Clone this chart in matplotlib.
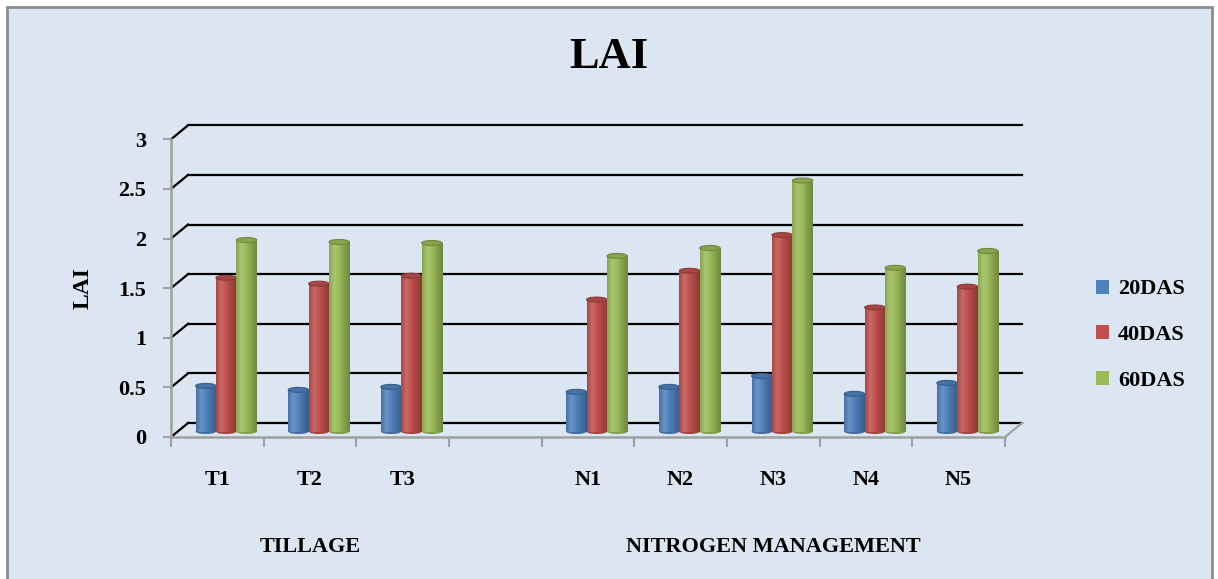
import matplotlib
matplotlib.use("Agg")
import matplotlib.pyplot as plt
import numpy as np
from matplotlib.colors import LinearSegmentedColormap, to_rgb
from matplotlib.patches import Ellipse, Rectangle, Patch

# data
categories = ["T1", "T2", "T3", "", "N1", "N2", "N3", "N4", "N5"]
groups = ["TILLAGE", "NITROGEN MANAGEMENT"]
group_centers = [1, 6]
series = ["20DAS", "40DAS", "60DAS"]
das20 = [0.46, 0.42, 0.45, None, 0.40, 0.45, 0.56, 0.38, 0.49]
das40 = [1.55, 1.49, 1.57, None, 1.33, 1.62, 1.98, 1.25, 1.46]
das60 = [1.93, 1.91, 1.90, None, 1.77, 1.85, 2.53, 1.65, 1.82]
colors = ["#4F81BD", "#C0504D", "#9BBB59"]
yticks = [0, 0.5, 1, 1.5, 2, 2.5, 3]
ytick_labels = ["0", "0.5", "1", "1.5", "2", "2.5", "3"]

plt.rcParams["font.family"] = ["Liberation Serif", "DejaVu Serif"]
plt.rcParams["font.weight"] = "bold"

W, H = 1218, 579
fig = plt.figure(figsize=(W / 100, H / 100), dpi=100, facecolor="white")

# chart area background + border
bg = Rectangle((7 / W, -0.05), (1212 - 7) / W, 1.05 - 7 / H, transform=fig.transFigure,
               facecolor="#DCE6F2", edgecolor="#8C8C8C", linewidth=2, zorder=0)
fig.add_artist(bg)

# axes = front plane of the 3d box
ax = fig.add_axes([171 / W, (H - 437) / H, (1005 - 171) / W, (437 - 139.3) / H])
ax.set_facecolor("none")
xmin, xmax = -0.5, len(categories) - 0.5

dx, dy = 0.184, 0.141          # depth offset of the back wall
bdx, bdy = 0.095, 0.055        # bars sit in the middle
grid_kw = dict(color="black", lw=1.6, clip_on=False, zorder=1)
for v in yticks:
    ax.plot([xmin + dx, xmax + dx], [v + dy, v + dy], **grid_kw)
    ax.plot([xmin, xmin + dx], [v, v + dy], **grid_kw)
# floor right edge
ax.plot([xmax, xmax + dx], [0, dy], color="#A0A0A0", lw=1.6, clip_on=False, zorder=1)

# cylinder bars
def cyl_cmap(c):
    r = np.array(to_rgb(c))
    light = r + (1 - r) * 0.15
    return LinearSegmentedColormap.from_list(
        "c", [r * 0.88, light, r, r * 0.85, r * 0.72])

bw = 0.22
eh = 0.05
grad = np.linspace(0, 1, 64).reshape(1, -1)
for si, vals in enumerate([das20, das40, das60]):
    cmap = cyl_cmap(colors[si])
    base = np.array(to_rgb(colors[si]))
    for ci, v in enumerate(vals):
        if v is None:
            continue
        xc = ci + (si - 1) * bw + bdx
        x0, x1 = xc - bw / 2, xc + bw / 2
        y0, y1 = bdy, v + bdy
        z = 2 + si * 0.1
        ax.add_patch(Ellipse((xc, y0), bw, eh, facecolor=base * 0.85,
                             edgecolor="none", zorder=z))
        ax.imshow(grad, extent=(x0, x1, y0, y1), origin="lower", cmap=cmap,
                  aspect="auto", zorder=z + 0.01, interpolation="bilinear")
        ax.add_patch(Ellipse((xc, y1), bw, eh, facecolor=base * 0.88,
                             edgecolor=base * 0.72, lw=0.8, zorder=z + 0.02))

ax.set_xlim(xmin, xmax)
ax.set_ylim(0, 3)
ax.set_aspect("auto")

# spines = front axis and floor edge
for s in ["top", "right"]:
    ax.spines[s].set_visible(False)
for s in ["left", "bottom"]:
    ax.spines[s].set_color("#A0A0A0")
    ax.spines[s].set_linewidth(1.8)

ax.set_yticks(yticks)
ax.set_yticklabels(ytick_labels)
ax.tick_params(axis="y", direction="out", length=6, width=1.5, color="#A0A0A0",
               pad=12, labelsize=16)
ax.set_xticks(np.arange(xmin, xmax + 0.01, 1))
ax.set_xticklabels([])
ax.tick_params(axis="x", which="major", direction="out", length=7, width=1.5,
               color="#A0A0A0")
ax.set_xticks(range(len(categories)), minor=True)
ax.set_xticklabels(categories, minor=True)
ax.tick_params(axis="x", which="minor", length=0, pad=24, labelsize=16)

for g, c in zip(groups, group_centers):
    ax.text(c, -0.37, g, ha="center", va="center", fontsize=16, fontweight="bold",
            transform=ax.get_xaxis_transform(), clip_on=False)

ax.set_ylabel("LAI", fontsize=17, fontweight="bold", labelpad=18)
fig.text(609 / W, 1 - 57 / H, "LAI", ha="center", va="center", fontsize=32,
         fontweight="bold")

handles = [Patch(facecolor=c, edgecolor="none") for c in colors]
fig.legend(handles, series, loc="center left", bbox_to_anchor=(1076 / W, 1 - 335 / H),
           frameon=False, fontsize=16, handlelength=0.6, handleheight=0.6,
           handletextpad=0.4, labelspacing=1.15)

fig.savefig("out.png", dpi=100, facecolor=fig.get_facecolor())
